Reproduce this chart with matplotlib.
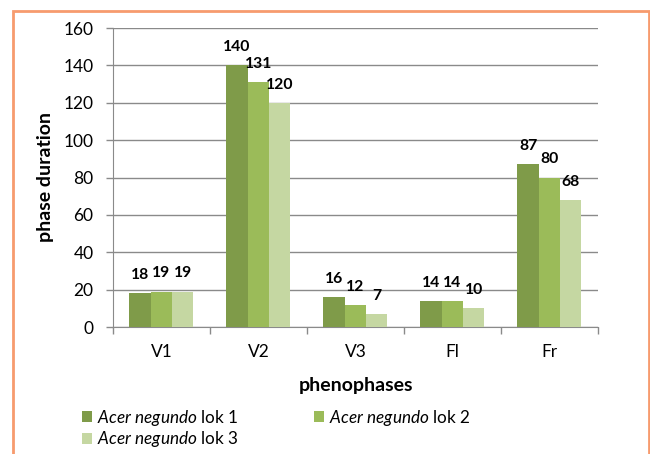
import matplotlib
matplotlib.use("Agg")
import matplotlib.pyplot as plt
from matplotlib.patches import Rectangle
import numpy as np

plt.rcParams['font.family'] = ['Lato', 'DejaVu Sans']
plt.rcParams['mathtext.fontset'] = 'custom'
plt.rcParams['mathtext.it'] = 'Lato:italic'
plt.rcParams['mathtext.rm'] = 'Lato'

# data
phases = ["V1", "V2", "V3", "Fl", "Fr"]
lok1 = [18, 140, 16, 14, 87]
lok2 = [19, 131, 12, 14, 80]
lok3 = [19, 120, 7, 10, 68]
series_names = [r"$\it{Acer\ negundo}$ lok 1",
                r"$\it{Acer\ negundo}$ lok 2",
                r"$\it{Acer\ negundo}$ lok 3"]
colores = ["#7F9B49", "#9BBB59", "#C5D7A2"]

fig = plt.figure(figsize=(6.5, 4.54), dpi=100)
ax = fig.add_axes([0.1738, 0.2797, 0.746, 0.6586])

x = np.arange(len(phases))
largura = 0.22
barras = []
for i, (vals, cor) in enumerate(zip([lok1, lok2, lok3], colores)):
    b = ax.bar(x + (i - 1) * largura, vals, largura, color=cor, zorder=3)
    barras.append(b)
    for xi, v in zip(x + (i - 1) * largura, vals):
        ax.annotate(str(v), (xi, v), xytext=(0, 13), textcoords="offset points",
                    ha="center", va="center", fontsize=11.3, fontweight="bold")

ax.set_xlim(-0.5, len(phases) - 0.5)
ax.set_ylim(0, 160)
ax.set_yticks(range(0, 161, 20))
ax.yaxis.grid(True, color="#8a8a8a", linewidth=1)
ax.set_axisbelow(True)

ax.set_xticks(x)
ax.set_xticklabels(phases)
ax.set_xticks(np.arange(-0.5, len(phases), 1), minor=True)
ax.tick_params(axis="x", which="major", length=0, labelsize=12.5, pad=12)
ax.tick_params(axis="x", which="minor", length=5, color="#8a8a8a", width=1)
ax.tick_params(axis="y", length=5, color="#8a8a8a", width=1, labelsize=12.5, pad=9)

for s in ["top", "right"]:
    ax.spines[s].set_visible(False)
ax.spines["left"].set_color("#8a8a8a")
ax.spines["bottom"].set_color("#8a8a8a")

# titulos dos eixos
fig.text(46 / 650, 1 - 177 / 454, "phase duration", rotation=90, ha="center", va="center",
         fontsize=14, fontweight="bold")
fig.text(356 / 650, 1 - 385 / 454, "phenophases", ha="center", va="center",
         fontsize=14, fontweight="bold")

handles = [barras[0], barras[2], barras[1]]
labels = [series_names[0], series_names[2], series_names[1]]
fig.legend(handles, labels, ncol=2, loc="upper left", bbox_to_anchor=(0.115, 0.117),
           frameon=False, fontsize=12.3, handlelength=0.6, handleheight=0.6,
           handletextpad=0.3, columnspacing=4.4, labelspacing=0.1, borderaxespad=0)

# moldura laranja
fig.patches.append(Rectangle((13 / 650, -0.05), 636 / 650, 1.05 - 11 / 454,
                             transform=fig.transFigure, fill=False,
                             edgecolor="#F79B6E", linewidth=2))

fig.savefig("out.png", dpi=100)
